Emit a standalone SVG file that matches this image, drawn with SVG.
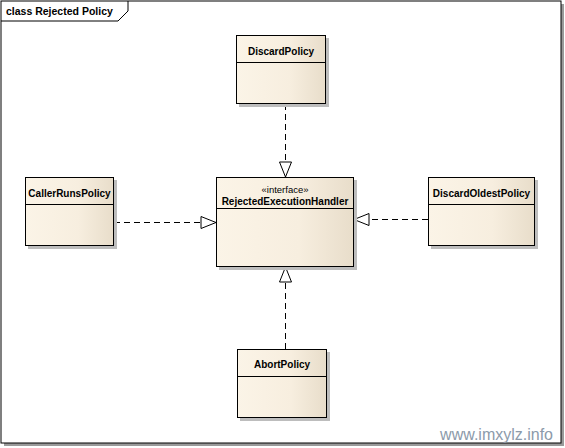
<svg xmlns="http://www.w3.org/2000/svg" width="565" height="448" viewBox="0 0 565 448">
<defs>
<linearGradient id="g" x1="0" y1="0" x2="1" y2="0">
<stop offset="0" stop-color="#FBF4E7"/>
<stop offset="0.6" stop-color="#F7EEDF"/>
<stop offset="1" stop-color="#E8DDCA"/>
</linearGradient>
<marker id="tri" markerWidth="18" markerHeight="14" refX="16" refY="7" orient="auto" markerUnits="userSpaceOnUse">
<path d="M1,1 L16,7 L1,13 Z" fill="#FFFFFF" stroke="#000" stroke-width="1"/>
</marker>
<style>
.box{fill:url(#g);stroke:#000;stroke-width:1}
.sh{fill:#BDBDBD}
.t{font-family:"Liberation Sans",Arial,sans-serif;font-size:10px;font-weight:bold;fill:#000;text-anchor:middle}
.st{font-family:"Liberation Sans",Arial,sans-serif;font-size:9.5px;fill:#000;text-anchor:middle}
.c{stroke:#000;stroke-width:1;stroke-dasharray:6,4;fill:none;marker-end:url(#tri)}
</style>
</defs>
<rect x="0" y="0" width="565" height="448" fill="#FFFFFF"/>
<g id="frame">
<rect x="4" y="4" width="560" height="442" fill="#9A9A9A"/>
<rect x="1" y="1" width="560" height="442" fill="#FFFFFF" stroke="#000" stroke-width="1"/>
<path d="M1,21 H118 L128,11 V1" fill="none" stroke="#000" stroke-width="1"/>
<text x="6" y="15" font-family="'Liberation Sans',Arial,sans-serif" font-size="10.5" font-weight="bold" fill="#000">class Rejected Policy</text>
</g>
<g id="connectors">
<line class="c" x1="285.5" y1="104" x2="285.5" y2="177"/>
<line class="c" x1="114" y1="222.5" x2="216" y2="222.5"/>
<line class="c" x1="428" y1="219.5" x2="354" y2="219.5"/>
<line class="c" x1="285.5" y1="349" x2="285.5" y2="267"/>
</g>
<g id="RejectedExecutionHandler">
<rect class="sh" x="219" y="180" width="138" height="90"/>
<rect class="box" x="216.5" y="177.5" width="137" height="89"/>
<line x1="216.5" y1="208.5" x2="353.5" y2="208.5" stroke="#000"/>
<text class="st" x="285" y="193">«interface»</text>
<text class="t" x="285" y="205">RejectedExecutionHandler</text>
</g>
<g id="DiscardPolicy">
<rect class="sh" x="239" y="38" width="90" height="69"/>
<rect class="box" x="236.5" y="35.5" width="89" height="68"/>
<line x1="236.5" y1="62.5" x2="325.5" y2="62.5" stroke="#000"/>
<text class="t" x="281" y="55">DiscardPolicy</text>
</g>
<g id="CallerRunsPolicy">
<rect class="sh" x="28" y="180" width="89" height="69"/>
<rect class="box" x="25.5" y="177.5" width="88" height="68"/>
<line x1="25.5" y1="204.5" x2="113.5" y2="204.5" stroke="#000"/>
<text class="t" x="69.5" y="197">CallerRunsPolicy</text>
</g>
<g id="DiscardOldestPolicy">
<rect class="sh" x="431" y="180" width="107" height="69"/>
<rect class="box" x="428.5" y="177.5" width="106" height="68"/>
<line x1="428.5" y1="204.5" x2="534.5" y2="204.5" stroke="#000"/>
<text class="t" x="481.5" y="197">DiscardOldestPolicy</text>
</g>
<g id="AbortPolicy">
<rect class="sh" x="240" y="352" width="90" height="69"/>
<rect class="box" x="237.5" y="349.5" width="89" height="68"/>
<line x1="237.5" y1="376.5" x2="326.5" y2="376.5" stroke="#000"/>
<text class="t" x="282" y="368">AbortPolicy</text>
</g>
<text x="553" y="440" font-family="'Liberation Sans',Arial,sans-serif" font-size="16" fill="#8C9AAA" text-anchor="end">www.imxylz.info</text>
</svg>
